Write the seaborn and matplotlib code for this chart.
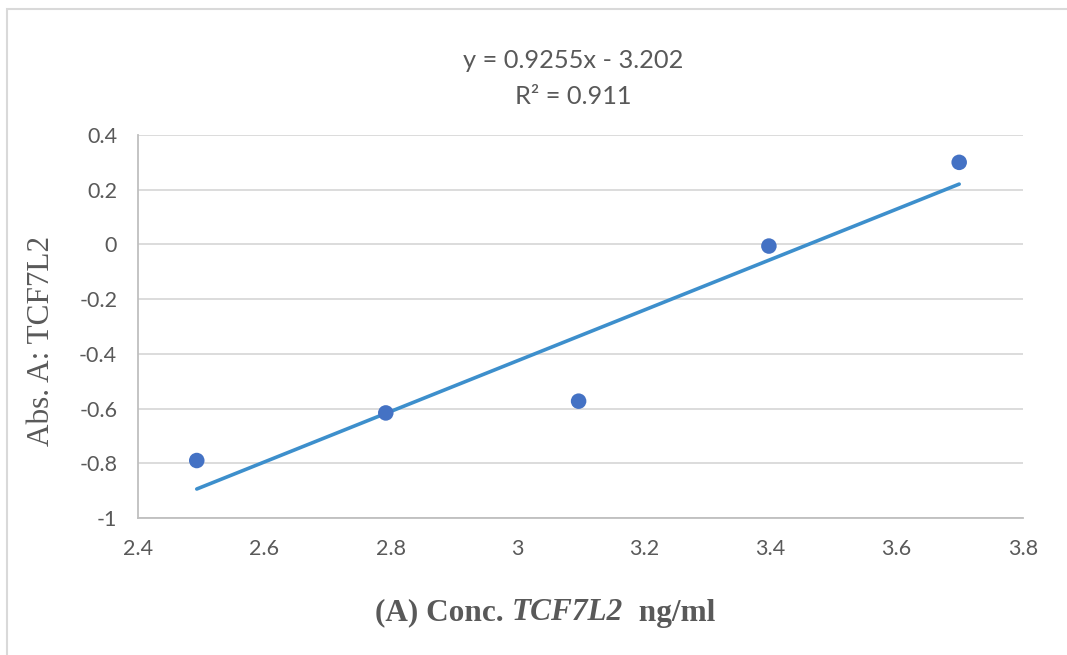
import matplotlib
matplotlib.use('Agg')
import matplotlib.pyplot as plt
import seaborn as sns
import pandas as pd
from matplotlib.ticker import FuncFormatter, MultipleLocator
from matplotlib.offsetbox import TextArea, HPacker, AnchoredOffsetbox
from matplotlib.patches import Rectangle

# concentration (log10 ng/ml) and absorbance
conc = [2.493, 2.792, 3.097, 3.398, 3.699]
absorb = [-0.79, -0.616, -0.573, -0.006, 0.30]
equation = 'y = 0.9255x - 3.202'
r_squared = 'R² = 0.911'

df = pd.DataFrame({'conc': conc, 'abs': absorb})

sns.set_style('white')
plt.rcParams['font.family'] = ['Lato', 'DejaVu Sans']

fig = plt.figure(figsize=(10.67, 6.55), dpi=100)
ax = fig.add_axes([0.1293, 0.2092, 0.8295, 0.5847])

# outer chart border (only top and left visible, cropped)
fig.patches.append(Rectangle((7 / 1067, -0.05), 1.2, 1 - 9 / 655 + 0.05,
                             transform=fig.transFigure, fill=False,
                             edgecolor='#D9D9D9', linewidth=1.5))

sns.regplot(data=df, x='conc', y='abs', ci=None, truncate=True, scatter=False,
            line_kws={'color': '#3D8FCC', 'linewidth': 2.6}, ax=ax)
sns.scatterplot(data=df, x='conc', y='abs', s=125, color='#4472C4',
                edgecolor='none', zorder=5, ax=ax)

ax.set_xlim(2.4, 3.8)
ax.set_ylim(-1, 0.4)
ax.xaxis.set_major_locator(MultipleLocator(0.2))
ax.yaxis.set_major_locator(MultipleLocator(0.2))
fmt = FuncFormatter(lambda v, p: f'{round(v, 2):g}')
ax.xaxis.set_major_formatter(fmt)
ax.yaxis.set_major_formatter(fmt)
ax.tick_params(axis='both', length=0, labelsize=15.5, labelcolor='#595959', pad=15)
ax.grid(True, axis='y', color='#D9D9D9', linewidth=1.3)
ax.set_axisbelow(True)
for side in ['top', 'right']:
    ax.spines[side].set_visible(False)
for side in ['left', 'bottom']:
    ax.spines[side].set_color('#BFBFBF')
    ax.spines[side].set_linewidth(1.3)

ax.set_xlabel('')
ax.set_ylabel('')
fig.text(42 / 1067, 1 - 341 / 655, 'Abs. A: TCF7L2', rotation=90,
         ha='center', va='center', fontsize=22.5, color='#595959',
         family=['Liberation Serif'])

fig.text(573 / 1067, 1 - 60 / 655, equation, ha='center', va='center',
         fontsize=18.3, color='#595959')
fig.text(573 / 1067, 1 - 97 / 655, r_squared, ha='center', va='center',
         fontsize=18.3, color='#595959')

# x axis title with italic gene name
serif = ['Liberation Serif']
parts = [
    TextArea('(A) Conc. ', textprops=dict(fontsize=22.5, fontweight='bold', color='#595959', family=serif)),
    TextArea('TCF7L2', textprops=dict(fontsize=22.5, fontweight='bold', fontstyle='italic', color='#595959', family=serif)),
    TextArea('  ng/ml', textprops=dict(fontsize=22.5, fontweight='bold', color='#595959', family=serif)),
]
box = HPacker(children=parts, align='baseline', pad=0, sep=0)
anch = AnchoredOffsetbox(loc='center', child=box, frameon=False,
                         bbox_to_anchor=(545 / 1067, 1 - 613 / 655),
                         bbox_transform=fig.transFigure, borderpad=0, pad=0)
fig.add_artist(anch)

fig.savefig('out.png', dpi=100)
